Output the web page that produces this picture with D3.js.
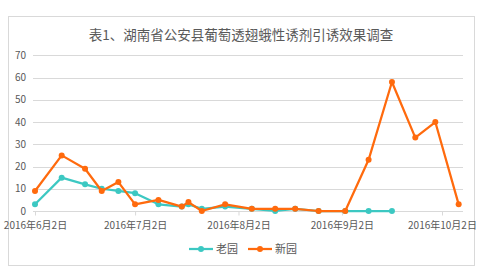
<!DOCTYPE html>
<html>
<head>
<meta charset="utf-8">
<script src="https://cdn.jsdelivr.net/npm/d3@7"></script>
<style>
    body { margin: 0; background: #fff; }
    text { font-family: "Noto Sans CJK SC", "DejaVu Sans", sans-serif; fill: #595959; }
</style>
</head>
<body>
<div id="chart"></div>
<script>
// Data
var oldDates = ["2016-06-02", "2016-06-10", "2016-06-17", "2016-06-22", "2016-06-27", "2016-07-02",
    "2016-07-09", "2016-07-16", "2016-07-18", "2016-07-22", "2016-07-29", "2016-08-06",
    "2016-08-13", "2016-08-19", "2016-08-26", "2016-09-03", "2016-09-10", "2016-09-17"];
var oldValues = [3, 15, 12, 10, 9, 8, 3, 2, 3, 1, 2, 1, 0, 1, 0, 0, 0, 0];

var newDates = ["2016-06-02", "2016-06-10", "2016-06-17", "2016-06-22", "2016-06-27", "2016-07-02",
    "2016-07-09", "2016-07-16", "2016-07-18", "2016-07-22", "2016-07-29", "2016-08-06",
    "2016-08-13", "2016-08-19", "2016-08-26", "2016-09-03", "2016-09-10", "2016-09-17",
    "2016-09-24", "2016-09-30", "2016-10-07"];
var newValues = [9, 25, 19, 9, 13, 3, 5, 2, 4, 0, 3, 1, 1, 1, 0, 0, 23, 58, 33, 40, 3];

var tickDates = ["2016-06-02", "2016-07-02", "2016-08-02", "2016-09-02", "2016-10-02"];
var yTicks = [0, 10, 20, 30, 40, 50, 60, 70];
var seriesNames = ["老园", "新园"];
var seriesColors = ["#3cc8c2", "#ff6a0d"];

var svgWidth = 483;
var svgHeight = 275;

var parseDate = d3.timeParse("%Y-%m-%d");
var fmtDate = function(d) {
    return d.getFullYear() + "年" + (d.getMonth() + 1) + "月" + d.getDate() + "日";
};

var svg = d3.select("#chart")
    .append("svg")
    .attr("width", svgWidth)
    .attr("height", svgHeight);

// chart border
svg.append("rect")
    .attr("x", 8.5)
    .attr("y", 16.5)
    .attr("width", 466)
    .attr("height", 249)
    .attr("fill", "#fff")
    .attr("stroke", "#d9d9d9");

// title
svg.append("text")
    .attr("x", 241)
    .attr("y", 40)
    .attr("text-anchor", "middle")
    .attr("font-size", "13.5px")
    .text("表1、湖南省公安县葡萄透翅蛾性诱剂引诱效果调查");

var xScale = d3.scaleTime()
    .domain([parseDate("2016-06-02"), parseDate("2016-10-08")])
    .range([35, 462]);

var yScale = d3.scaleLinear()
    .domain([0, 70])
    .range([211, 55.3]);

// gridlines
svg.append("g")
    .selectAll("line")
    .data(yTicks)
    .enter()
    .append("line")
    .attr("x1", 33)
    .attr("x2", 463)
    .attr("y1", d => Math.round(yScale(d)) + 0.5)
    .attr("y2", d => Math.round(yScale(d)) + 0.5)
    .attr("stroke", "#d9d9d9")
    .attr("stroke-width", 1);

// y labels
svg.append("g")
    .selectAll("text")
    .data(yTicks)
    .enter()
    .append("text")
    .attr("x", 26)
    .attr("y", d => yScale(d) + 3.5)
    .attr("text-anchor", "end")
    .attr("font-size", "10px")
    .text(d => d);

// x axis
var xAxis = d3.axisBottom(xScale)
    .tickValues(tickDates.map(parseDate))
    .tickFormat(fmtDate)
    .tickSize(4)
    .tickPadding(6);

var xAxisGroup = svg.append("g")
    .attr("transform", `translate(0, ${Math.round(yScale(0)) + 0.5})`)
    .call(xAxis);

xAxisGroup.select(".domain")
    .attr("d", "M33,0H463")
    .attr("stroke", "#d9d9d9");
xAxisGroup.selectAll(".tick line").attr("stroke", "#d9d9d9");
xAxisGroup.selectAll(".tick text")
    .attr("font-size", "10px")
    .attr("font-family", "\"Noto Sans CJK SC\", sans-serif")
    .attr("fill", "#595959");

// build series from the arrays
var series = [
    { name: seriesNames[0], color: seriesColors[0],
      points: oldDates.map((d, i) => ({ date: parseDate(d), value: oldValues[i] })) },
    { name: seriesNames[1], color: seriesColors[1],
      points: newDates.map((d, i) => ({ date: parseDate(d), value: newValues[i] })) }
];

var line = d3.line()
    .x(d => xScale(d.date))
    .y(d => yScale(d.value));

series.forEach(function(s) {
    svg.append("path")
        .datum(s.points)
        .attr("d", line)
        .attr("fill", "none")
        .attr("stroke", s.color)
        .attr("stroke-width", 2.25)
        .attr("stroke-linejoin", "round");

    svg.append("g")
        .selectAll("circle")
        .data(s.points)
        .enter()
        .append("circle")
        .attr("cx", d => xScale(d.date))
        .attr("cy", d => yScale(d.value))
        .attr("r", 3)
        .attr("fill", s.color);
});

// legend
var legend = svg.append("g")
    .attr("transform", "translate(189, 249)");

var legendItems = legend.selectAll("g")
    .data(series)
    .enter()
    .append("g")
    .attr("transform", (d, i) => `translate(${i * 59}, 0)`);

legendItems.append("line")
    .attr("x1", 0)
    .attr("x2", 24)
    .attr("stroke", d => d.color)
    .attr("stroke-width", 2.25);

legendItems.append("circle")
    .attr("cx", 12)
    .attr("r", 3)
    .attr("fill", d => d.color);

legendItems.append("text")
    .attr("x", 27)
    .attr("y", 4)
    .attr("font-size", "11px")
    .text(d => d.name);
</script>
</body>
</html>
